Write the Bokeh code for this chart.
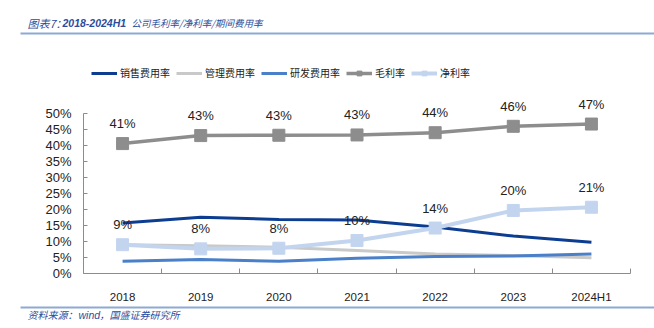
from bokeh.plotting import figure
from bokeh.models import (Range1d, FixedTicker, PrintfTickFormatter, Label, LabelSet,
                          ColumnDataSource, Legend, LegendItem, BoxAnnotation, LinearAxis)
from bokeh.core.properties import value
from bokeh.embed import file_html
from bokeh.resources import INLINE

categories = ["2018", "2019", "2020", "2021", "2022", "2023", "2024H1"]
sales_exp = [15.8, 17.6, 16.9, 16.7, 14.5, 11.7, 9.8]
admin_exp = [9.0, 8.7, 8.2, 7.2, 6.1, 5.6, 4.9]
rd_exp = [3.8, 4.4, 3.8, 4.8, 5.3, 5.5, 6.1]
gross_margin = [40.6, 43.1, 43.2, 43.3, 44.0, 46.0, 46.7]
net_margin = [9.0, 7.7, 7.9, 10.3, 14.2, 19.7, 20.7]
gross_labels = ["41%", "43%", "43%", "43%", "44%", "46%", "47%"]
net_labels = ["9%", "8%", "8%", "10%", "14%", "20%", "21%"]
series_names = ["销售费用率", "管理费用率", "研发费用率", "毛利率", "净利率"]
y_ticks = [0, 5, 10, 15, 20, 25, 30, 35, 40, 45, 50]

W, H = 654, 328
# plot area in canvas pixels
PL, PR, PT, PB = 83, 630, 113, 273
n = len(categories)
ymax = 50
xscale = (PR - PL) / n
yscale = (PB - PT) / ymax

xs = [i + 0.5 for i in range(n)]

p = figure(width=W, height=H, output_backend="svg", toolbar_location=None,
           x_range=Range1d(-PL / xscale, (W - PL) / xscale),
           y_range=Range1d(-(H - PB) / yscale, (PB) / yscale),
           x_axis_type=None, y_axis_type=None, min_border=0)
p.outline_line_color = None
p.background_fill_color = "white"
p.border_fill_color = "white"

axis_color = "#8c8c8c"
yaxis = LinearAxis(fixed_location=0, bounds=(0, ymax))
yaxis.ticker = FixedTicker(ticks=y_ticks)
yaxis.formatter = PrintfTickFormatter(format="%d%%")
yaxis.axis_line_color = axis_color
yaxis.major_tick_line_color = axis_color
yaxis.major_tick_in = 4
yaxis.major_tick_out = 0
yaxis.minor_tick_line_color = None
yaxis.major_label_standoff = 12
yaxis.major_label_text_font = "Liberation Sans"
yaxis.major_label_text_font_size = "13px"
yaxis.major_label_text_color = "#222222"
p.add_layout(yaxis, "left")

xaxis = LinearAxis(fixed_location=0, bounds=(0, n))
xaxis.ticker = FixedTicker(ticks=xs, minor_ticks=list(range(n + 1)))
xaxis.major_label_overrides = {x: c for x, c in zip(xs, categories)}
xaxis.axis_line_color = axis_color
xaxis.major_tick_line_color = None
xaxis.minor_tick_line_color = axis_color
xaxis.minor_tick_in = 5
xaxis.minor_tick_out = 0
xaxis.major_label_standoff = 11
xaxis.major_label_text_font = "Liberation Sans"
xaxis.major_label_text_font_size = "11.5px"
xaxis.major_label_text_color = "#222222"
p.add_layout(xaxis, "below")

c_sales = "#0d3d91"
c_admin = "#c9c9c9"
c_rd = "#4a7fc9"
c_gross = "#8d8d8d"
c_net = "#c3d5ee"

r_sales = p.line(xs, sales_exp, line_color=c_sales, line_width=3)
r_admin = p.line(xs, admin_exp, line_color=c_admin, line_width=3)
r_rd = p.line(xs, rd_exp, line_color=c_rd, line_width=3)
r_gross_l = p.line(xs, gross_margin, line_color=c_gross, line_width=3.5)
r_gross_m = p.scatter(xs, gross_margin, marker="square", size=12, fill_color=c_gross, line_color=c_gross)
r_net_l = p.line(xs, net_margin, line_color=c_net, line_width=4)
r_net_m = p.scatter(xs, net_margin, marker="square", size=12, fill_color=c_net, line_color=c_net)

src_g = ColumnDataSource(dict(x=xs, y=gross_margin, t=gross_labels))
src_n = ColumnDataSource(dict(x=xs, y=net_margin, t=net_labels))
for src in (src_g, src_n):
    p.add_layout(LabelSet(x="x", y="y", text="t", source=src, y_offset=20,
                          text_align="center", text_baseline="middle",
                          text_font=value("Liberation Sans"), text_font_size=value("13px"),
                          text_color="#222222"))

legend = Legend(items=[
    LegendItem(label=series_names[0], renderers=[r_sales]),
    LegendItem(label=series_names[1], renderers=[r_admin]),
    LegendItem(label=series_names[2], renderers=[r_rd]),
    LegendItem(label=series_names[3], renderers=[r_gross_l, r_gross_m]),
    LegendItem(label=series_names[4], renderers=[r_net_l, r_net_m]),
], orientation="horizontal", location=(91, H - 80))
legend.border_line_color = None
legend.background_fill_alpha = 0
legend.padding = 2
legend.margin = 0
legend.spacing = 6
legend.glyph_width = 26
legend.glyph_height = 12
legend.label_height = 12
legend.label_standoff = 3
legend.label_text_font = "Noto Sans CJK SC"
legend.label_text_font_size = "10px"
legend.label_text_color = "#222222"
legend.label_text_baseline = "middle"
p.add_layout(legend)

title_color = "#2a4d9b"
def lab(text, cx, cy, size, style="italic", color=title_color, font="Noto Sans CJK SC"):
    p.add_layout(Label(x=cx, y=H - cy, x_units="screen", y_units="screen",
                       text=text, text_font=font, text_font_size=size, text_font_style=style,
                       text_color=color, text_baseline="middle", text_align="left"))

lab("图表7：", 27, 22, "11px")
lab("2018-2024H1", 62, 22, "10.5px", style="bold italic", font="Liberation Sans")
lab("公司毛利率/净利率/期间费用率", 131, 22, "9.5px")
lab("资料来源：", 27, 314, "10px")
lab("wind", 78, 314, "10.5px", font="Liberation Sans")
lab("，国盛证券研究所", 99, 314, "10px")

rule_color = "#8ea9d6"
for cy in (33, 307):
    p.add_layout(BoxAnnotation(left=20, right=W, top=H - cy + 1, bottom=H - cy - 1,
                               left_units="screen", right_units="screen",
                               top_units="screen", bottom_units="screen",
                               fill_color=rule_color, fill_alpha=1, line_color=None))

open("out.html", "w").write(file_html(p, INLINE))
